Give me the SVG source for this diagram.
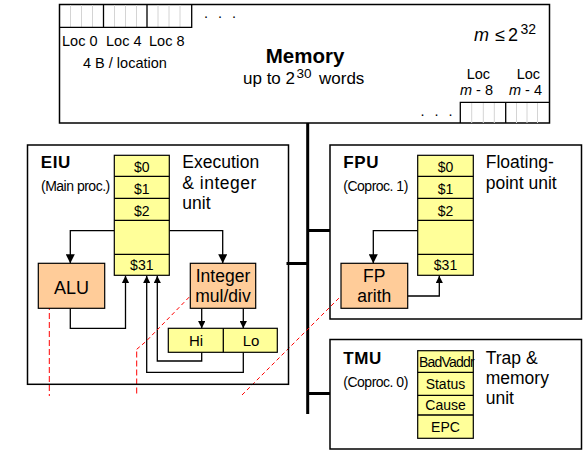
<svg xmlns="http://www.w3.org/2000/svg" width="585" height="451" viewBox="0 0 585 451">
<style>
text{font-family:"Liberation Sans",Arial,sans-serif;fill:#000}
.box{fill:#fff;stroke:#000;stroke-width:1.5}
.cell{fill:none;stroke:#000;stroke-width:1.3}
.reg{fill:#FFFF99;stroke:#000;stroke-width:1.2}
.op{fill:#FFCC99;stroke:#000;stroke-width:1.2}
.byte{stroke:#d4d4d4;stroke-width:1}
.wire{fill:none;stroke:#000;stroke-width:1.3}
.bus{fill:none;stroke:#000;stroke-width:3}
.red{fill:none;stroke:#f00;stroke-width:1}
.r{font-size:14px;text-anchor:middle}
.t{font-size:17.5px}
.b{font-weight:bold;font-size:17px;letter-spacing:0.6px}
.p{font-size:14px;letter-spacing:-0.5px}
.m{font-size:14.5px}
.c{text-anchor:middle}
</style>
<defs>
<marker id="ab" viewBox="0 0 10 10" refX="10" refY="5" markerWidth="9" markerHeight="9" markerUnits="userSpaceOnUse" orient="auto"><path d="M0,0 L10,5 L0,10 z" fill="#000"/></marker>
<marker id="as" viewBox="0 0 10 10" refX="10" refY="5" markerWidth="7.5" markerHeight="7.5" markerUnits="userSpaceOnUse" orient="auto"><path d="M0,0 L10,5 L0,10 z" fill="#000"/></marker>
</defs>
<rect width="585" height="451" fill="#fff"/>

<g id="memory">
<rect class="box" x="59.5" y="4.5" width="490" height="118.5"/>
<g class="byte">
<line x1="70.5" y1="5" x2="70.5" y2="27"/><line x1="81.5" y1="5" x2="81.5" y2="27"/><line x1="92.5" y1="5" x2="92.5" y2="27"/>
<line x1="114.5" y1="5" x2="114.5" y2="27"/><line x1="125.5" y1="5" x2="125.5" y2="27"/><line x1="136.5" y1="5" x2="136.5" y2="27"/>
<line x1="158" y1="5" x2="158" y2="27"/><line x1="169" y1="5" x2="169" y2="27"/><line x1="180" y1="5" x2="180" y2="27"/>
<line x1="471.7" y1="103" x2="471.7" y2="123"/><line x1="483.3" y1="103" x2="483.3" y2="123"/><line x1="494.3" y1="103" x2="494.3" y2="123"/>
<line x1="516.5" y1="103" x2="516.5" y2="123"/><line x1="527" y1="103" x2="527" y2="123"/><line x1="537.5" y1="103" x2="537.5" y2="123"/>
</g>
<path class="cell" d="M59.5,27.3 H191.7 V4.5 M103.5,4.5 V27.3 M147,4.5 V27.3"/>
<path class="cell" d="M460.3,123 V102.3 H549.5 M505.7,102.3 V123"/>
<text class="m" x="204" y="18" letter-spacing="3">. . .</text>
<text class="m" x="420.5" y="115.5" letter-spacing="3">. . .</text>
<text class="m" x="62" y="45.5">Loc 0</text>
<text class="m" x="106" y="45.5">Loc 4</text>
<text class="m" x="149" y="45.5">Loc 8</text>
<text class="m" x="83" y="67.5">4 B / location</text>
<text x="305" y="62.5" font-size="20.5" font-weight="bold" class="c">Memory</text>
<text x="243" y="84" font-size="17">up to 2<tspan x="296.5" dy="-6.5" font-size="13.5">30</tspan><tspan x="319" dy="6.5">words</tspan></text>
<text x="474" y="41" font-size="18"><tspan font-style="italic">m</tspan><tspan x="495.3">≤</tspan><tspan x="508">2</tspan><tspan x="520.5" dy="-7" font-size="14">32</tspan></text>
<text class="m" x="466.7" y="79">Loc</text>
<text class="m" x="516.7" y="79">Loc</text>
<text class="m" x="460" y="94.5"><tspan font-style="italic">m</tspan> - 8</text>
<text class="m" x="509" y="94.5"><tspan font-style="italic">m</tspan> - 4</text>
</g>

<g id="connectors">
<path class="bus" d="M307.7,123 V414 M286.5,263.5 H307.7 M307.7,230.5 H330 M307.7,393.5 H330"/>
<path class="wire" d="M114.3,230.7 H70.3 V263.3" marker-end="url(#ab)"/>
<path class="wire" d="M169.3,230.7 H222.7 V263.3" marker-end="url(#ab)"/>
<path class="wire" d="M70.3,308.3 V328.3 H125.5 V275.8" marker-end="url(#as)"/>
<path class="wire" d="M201.7,352.3 V361 H157.3 V275.8" marker-end="url(#as)"/>
<path class="wire" d="M243.3,352.3 V372.3 H146.7 V275.8" marker-end="url(#as)"/>
<path class="wire" d="M201.7,308.3 V328.3" marker-end="url(#as)"/>
<path class="wire" d="M243.3,308.3 V328.3" marker-end="url(#as)"/>
<path class="wire" d="M417.7,230.7 H373.3 V263.3" marker-end="url(#ab)"/>
<path class="wire" d="M407.7,296 H439.3 V275.8" marker-end="url(#as)"/>
<path class="red" stroke-dasharray="6 3" d="M49.3,295 V396"/>
<path class="red" stroke-dasharray="6 3" d="M136.7,393.5 V349.3"/>
<path class="red" stroke-dasharray="4 3" d="M136.7,349.3 L145.7,341.7 L200,286"/>
<path class="red" stroke-dasharray="4 3" d="M242,395 L353,284"/>
</g>

<g id="eiu">
<rect class="box" x="27.5" y="145" width="261" height="239.3" style="fill:none"/>
<text class="b" x="40.7" y="167.5">EIU</text>
<text class="p" x="41" y="191">(Main proc.)</text>
<text class="t" x="182.3" y="167.5">Execution</text>
<text class="t" x="182.3" y="189" letter-spacing="0.5">&amp; integer</text>
<text class="t" x="182.3" y="208.5">unit</text>
<g id="eiu-regs">
<rect class="reg" x="114.3" y="155.3" width="55" height="120"/>
<path class="wire" d="M114.3,176.3 H169.3 M114.3,198.3 H169.3 M114.3,220.3 H169.3 M114.3,254.3 H169.3"/>
<text class="r" x="141.8" y="171.5">$0</text>
<text class="r" x="141.8" y="193.5">$1</text>
<text class="r" x="141.8" y="215.5">$2</text>
<text class="r" x="141.8" y="270">$31</text>
</g>
<g id="alu">
<rect class="op" x="38.3" y="263.3" width="66.4" height="45"/>
<text x="71.5" y="293.5" font-size="18" class="c">ALU</text>
</g>
<g id="muldiv">
<rect class="op" x="190.3" y="263.3" width="65.4" height="45"/>
<text x="223" y="282" font-size="17.5" class="c">Integer</text>
<text x="223" y="302" font-size="17.5" class="c">mul/div</text>
</g>
<g id="hilo">
<rect class="reg" x="168.3" y="328.3" width="109" height="24"/>
<line class="wire" x1="223.3" y1="328.3" x2="223.3" y2="352.3"/>
<text x="196" y="346" font-size="15" class="c">Hi</text>
<text x="251" y="346" font-size="15" class="c">Lo</text>
</g>
</g>

<g id="fpu">
<rect class="box" x="330" y="145" width="251.5" height="174" style="fill:none"/>
<text class="b" x="343.3" y="167.5">FPU</text>
<text class="p" x="343.3" y="191">(Coproc. 1)</text>
<text class="t" x="485.7" y="167.5">Floating-</text>
<text class="t" x="485.7" y="189">point unit</text>
<g id="fpu-regs">
<rect class="reg" x="417.7" y="155.3" width="55.6" height="120"/>
<path class="wire" d="M417.7,176.3 H473.3 M417.7,198.3 H473.3 M417.7,220.3 H473.3 M417.7,254.3 H473.3"/>
<text class="r" x="445.5" y="171.5">$0</text>
<text class="r" x="445.5" y="193.5">$1</text>
<text class="r" x="445.5" y="215.5">$2</text>
<text class="r" x="445.5" y="270">$31</text>
</g>
<g id="fparith">
<rect class="op" x="341" y="263.3" width="66.7" height="45"/>
<text x="374.3" y="282" font-size="17.5" class="c">FP</text>
<text x="374.3" y="302" font-size="17.5" class="c">arith</text>
</g>
</g>

<g id="tmu">
<rect class="box" x="330" y="339.5" width="251.5" height="109.5"/>
<text class="b" x="343.3" y="363.5">TMU</text>
<text class="p" x="343.3" y="387">(Coproc. 0)</text>
<text class="t" x="485.7" y="363.5">Trap &amp;</text>
<text class="t" x="485.7" y="383.5">memory</text>
<text class="t" x="485.7" y="403.5">unit</text>
<g id="tmu-regs">
<rect class="reg" x="417.7" y="350.7" width="55.6" height="87.6"/>
<path class="wire" d="M417.7,372.3 H473.3 M417.7,395.3 H473.3 M417.7,415 H473.3"/>
<text class="r" x="446.5" y="367" letter-spacing="-0.8">BadVaddr</text>
<text class="r" x="445.5" y="388.5">Status</text>
<text class="r" x="445.5" y="410">Cause</text>
<text class="r" x="445.5" y="431.5">EPC</text>
</g>
</g>
</svg>
